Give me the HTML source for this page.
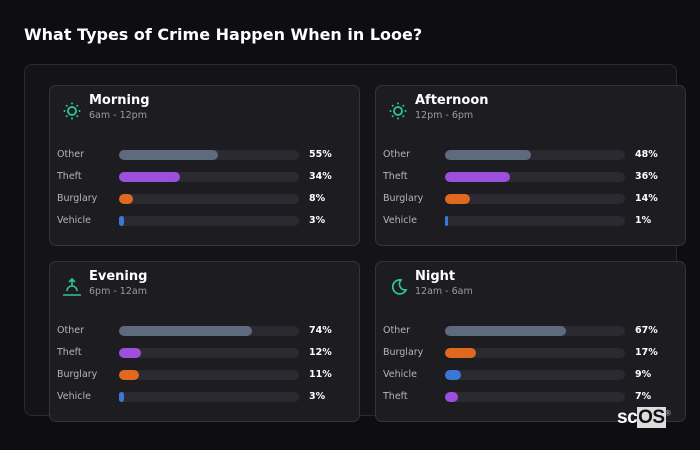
<!DOCTYPE html>
<html><head><meta charset="utf-8"><style>
body{margin:0;width:700px;height:450px;background:#0e0e12;font-family:"DejaVu Sans","Liberation Sans",sans-serif;position:relative;overflow:hidden;color:#fff}
#title{position:absolute;left:24px;top:25px;font-size:16px;font-weight:bold;color:#fff}
#outer{position:absolute;left:24px;top:64px;width:651px;height:350px;border:1px solid #2a2a30;border-radius:8px;background:#131318}
.card{position:absolute;width:309px;height:159px;border:1px solid #34343b;border-radius:7px;background:rgba(30,30,35,0.92)}
.card .icon{position:absolute;left:12px;top:15px;width:20px;height:20px}
.card .h{position:absolute;left:39px;top:7px;font-size:13px;font-weight:bold;color:#fff}
.card .s{position:absolute;left:39px;top:24px;font-size:9.5px;color:#9a9aa2}
.row{position:absolute;left:7px;height:14px;width:300px}
.row .l{position:absolute;left:0;top:0;font-size:9.5px;color:#b4b4bb;line-height:14px}
.row .t{position:absolute;left:62px;top:2px;width:180px;height:10px;border-radius:5px;background:#2a2a30}
.row .b{position:absolute;left:0;top:0;height:10px;border-radius:5px}
.row .v{position:absolute;left:252px;top:0;font-size:9.5px;font-weight:bold;color:#fff;line-height:14px}
#logo{position:absolute;left:617px;top:407px;font-size:19px;color:#fff;font-weight:bold;letter-spacing:-0.5px;font-family:"Liberation Sans",sans-serif}
#logo span{background:#ddd;color:#111;padding:0 1px}
</style></head><body>
<div id="title">What Types of Crime Happen When in Looe?</div>
<div id="outer"></div>
<div id="cards"></div>
<div id="logo">sc<span>OS</span><sup style="font-size:7px;color:#aaa">®</sup></div>
<script>
const periods=["Morning","Afternoon","Evening","Night"];
const ranges=["6am - 12pm","12pm - 6pm","6pm - 12am","12am - 6am"];
const categories=[["Other","Theft","Burglary","Vehicle"],["Other","Theft","Burglary","Vehicle"],["Other","Theft","Burglary","Vehicle"],["Other","Burglary","Vehicle","Theft"]];
const values=[[55,34,8,3],[48,36,14,1],[74,12,11,3],[67,17,9,7]];
const colors={Other:"#5f6a7e",Theft:"#9b4fdc",Burglary:"#e0691f",Vehicle:"#3a78d8"};
const pos=[[49,85],[375,85],[49,261],[375,261]];
const icons=[
'<circle cx="10" cy="10" r="4" fill="none" stroke="#2fc59a" stroke-width="1.8"/><g fill="#2fc59a"><circle cx="10" cy="2.5" r="1"/><circle cx="10" cy="17.5" r="1"/><circle cx="2.5" cy="10" r="1"/><circle cx="17.5" cy="10" r="1"/><circle cx="4.7" cy="4.7" r="1"/><circle cx="15.3" cy="4.7" r="1"/><circle cx="4.7" cy="15.3" r="1"/><circle cx="15.3" cy="15.3" r="1"/></g>',
null,
'<g fill="none" stroke="#2fc59a" stroke-width="1.6"><path d="M10 9V2M7 5l3-3 3 3"/><path d="M5 14a5 5 0 0 1 10 0"/><path d="M1 18h18"/></g>',
'<path d="M13 3a7 7 0 1 0 5 10A6 6 0 0 1 13 3z" fill="none" stroke="#2fc59a" stroke-width="1.7"/>'];
icons[1]=icons[0];
const wrap=document.getElementById('cards');
const track=180;
function xs(v){return v/100*track;}
periods.forEach((p,i)=>{
  const c=document.createElement('div');c.className='card';
  
  
  c.style.left=pos[i][0]+'px';c.style.top=pos[i][1]+'px';
  let h='<svg class="icon" viewBox="0 0 20 20">'+icons[i]+'</svg>';
  h+='<div class="h">'+p+'</div><div class="s">'+ranges[i]+'</div>';
  c.innerHTML=h;
  categories[i].forEach((cat,j)=>{
    const r=document.createElement('div');r.className='row';
    
    
    r.style.top=(62+j*22)+'px';
    const w=Math.max(xs(values[i][j]),3);
    r.innerHTML='<div class="l">'+cat+'</div><div class="t"><div class="b" style="width:'+w+'px;background:'+colors[cat]+'"></div></div><div class="v">'+values[i][j]+'%</div>';
    const b=r.querySelector('.b');
    
    
    c.appendChild(r);
  });
  wrap.appendChild(c);
});
</script>
</body></html>
